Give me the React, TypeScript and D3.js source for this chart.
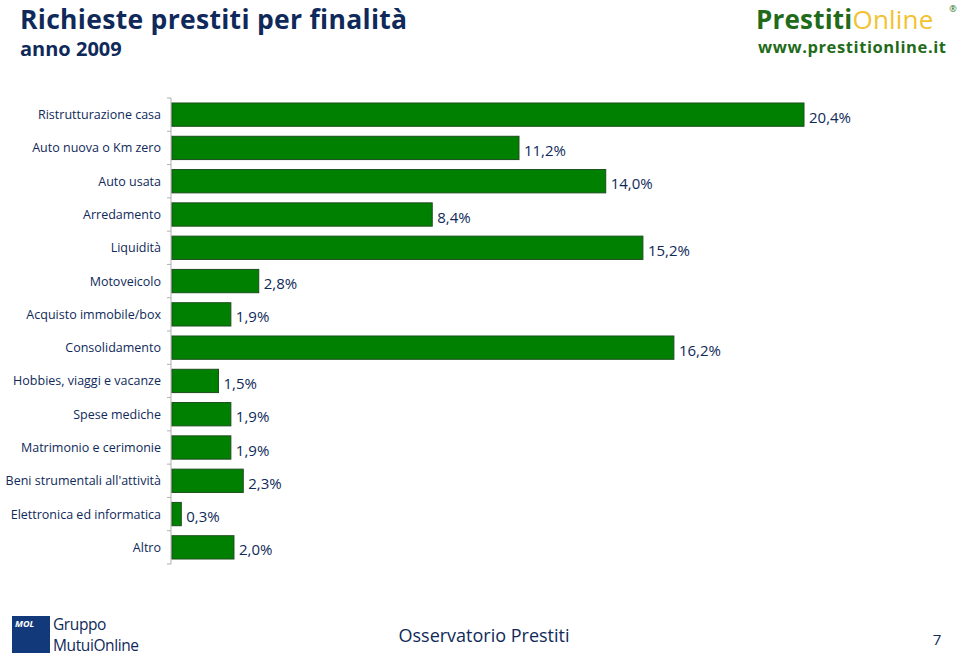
import React from "react";
import * as d3 from "d3";

const categories = [
  "Ristrutturazione casa",
  "Auto nuova o Km zero",
  "Auto usata",
  "Arredamento",
  "Liquidità",
  "Motoveicolo",
  "Acquisto immobile/box",
  "Consolidamento",
  "Hobbies, viaggi e vacanze",
  "Spese mediche",
  "Matrimonio e cerimonie",
  "Beni strumentali all'attività",
  "Elettronica ed informatica",
  "Altro",
];
const values = [20.4, 11.2, 14.0, 8.4, 15.2, 2.8, 1.9, 16.2, 1.5, 1.9, 1.9, 2.3, 0.3, 2.0];

const navy = "#0f2a5a";
const fontFam = "'Open Sans', 'DejaVu Sans', sans-serif";

export default function App() {
  const W = 960, H = 657;
  const x0 = 172;
  const x = d3.scaleLinear().domain([0, 20.4]).range([x0, 804]);
  const y = d3.scaleBand<string>().domain(categories).range([98, 564]).paddingInner(0.3).paddingOuter(0.15);
  const fmt = (v: number) => v.toFixed(1).replace(".", ",") + "%";
  const ticks = d3.range(categories.length + 1).map((i) => 98 + i * (466 / categories.length));

  return (
    <svg width={W} height={H} style={{ position: "absolute", left: 0, top: 0, background: "#fff" }}>
      <rect x={0} y={0} width={W} height={H} fill="#fff" />
      <text x={20} y={29} fill={navy} fontFamily={fontFam} fontWeight={700} fontSize={26.5} letterSpacing={0.3}>Richieste prestiti per finalità</text>
      <text x={20} y={56} fill={navy} fontFamily={fontFam} fontWeight={700} fontSize={20}>anno 2009</text>

      <text x={756} y={29} fontFamily={fontFam} fontWeight={700} fontSize={26} fill="#1f6b1a" letterSpacing={0.2}>
        Prestiti<tspan fill="#f2c230" fontWeight={400}>Online</tspan>
      </text>
      <text x={953} y={12} fontFamily={fontFam} fontSize={9} fill="#1f6b1a" textAnchor="middle">®</text>
      <text x={758} y={53} fontFamily={fontFam} fontWeight={700} fontSize={16.5} fill="#1f6b1a" letterSpacing={0.6}>www.prestitionline.it</text>

      <line x1={171} x2={171} y1={98} y2={564} stroke="#b0b0b0" strokeWidth={1} />
      {ticks.map((t, i) => (
        <line key={i} x1={167} x2={171} y1={t} y2={t} stroke="#b0b0b0" strokeWidth={1} />
      ))}

      {categories.map((c, i) => {
        const yy = y(c)!;
        const v = values[i];
        return (
          <g key={c}>
            <rect x={x0} y={yy} width={x(v) - x0} height={y.bandwidth()} fill="#008000" stroke="#1c4d1c" strokeWidth={1} />
            <text x={161} y={yy + y.bandwidth() / 2 + 4.5} textAnchor="end" fill={navy} fontFamily={fontFam} fontSize={12.5}>{c}</text>
            <text x={x(v) + 5} y={yy + y.bandwidth() / 2 + 8} fill={navy} fontFamily={fontFam} fontSize={15}>{fmt(v)}</text>
          </g>
        );
      })}

      <rect x={12} y={616} width={38} height={37} fill="#123a7a" />
      <text x={15} y={627} fill="#fff" fontFamily={fontFam} fontWeight={700} fontStyle="italic" fontSize={9}>MOL</text>
      <text x={53} y={630} fill={navy} fontFamily={fontFam} fontSize={15.5} letterSpacing={-0.4}>Gruppo</text>
      <text x={53} y={651} fill={navy} fontFamily={fontFam} fontSize={15.5} letterSpacing={-0.4}>MutuiOnline</text>
      <text x={484} y={642} textAnchor="middle" fill={navy} fontFamily={fontFam} fontSize={18}>Osservatorio Prestiti</text>
      <text x={937} y={645} textAnchor="middle" fill={navy} fontFamily={fontFam} fontSize={15}>7</text>
    </svg>
  );
}
